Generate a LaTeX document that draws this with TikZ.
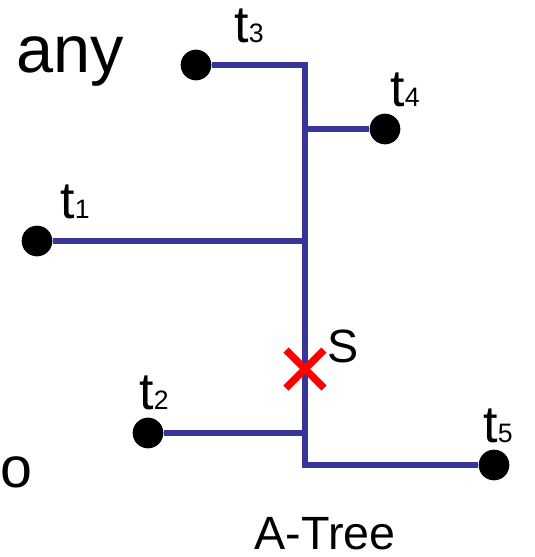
\documentclass[tikz,border=0pt]{standalone}
\usepackage{fontspec}
\setmainfont{Liberation Sans}
\usetikzlibrary{shapes.misc,positioning}
\definecolor{treeblue}{RGB}{54,54,154}
\newcommand{\term}[1]{{\fontsize{39}{44}\selectfont t}{\fontsize{20}{22}\selectfont #1}}

\begin{document}
\begin{tikzpicture}[
    x=0.75pt, y=-0.75pt,
    term/.style={circle, fill=black, minimum size=23pt, inner sep=0pt},
    wire/.style={treeblue, line width=5pt},
    lbl/.style={anchor=base, inner sep=0pt, font=\fontsize{35}{40}\selectfont},
    steiner/.style={cross out, draw=red, line width=5.5pt, minimum size=23pt, inner sep=0pt}
  ]
    \useasboundingbox (0,0) rectangle (535,557);
    % terminals
    \node[term] (t1) at (37,241) {};
    \node[term] (t2) at (148,433) {};
    \node[term] (t3) at (196,65) {};
    \node[term] (t4) at (385,129) {};
    \node[term] (t5) at (494,465) {};
    % trunk corners and junctions
    \coordinate (top) at (305,65);
    \coordinate (bot) at (305,465);
    \coordinate (j4) at (305,129);
    \coordinate (j1) at (305,241);
    \coordinate (j2) at (305,433);
    \draw[wire] (t3) -- (top) -- (bot) -- (t5);
    \draw[wire] (j4) -- (t4);
    \draw[wire] (t1) -- (j1);
    \draw[wire] (t2) -- (j2);
    \node[steiner] (s) at (305,369) {};
    % labels
    \node[lbl] (l3) at (249,42) {\term{3}};
    \node[lbl] (l4) at (405,106) {\term{4}};
    \node[lbl] (l1) at (75,218) {\term{1}};
    \node[lbl] (l2) at (154,409) {\term{2}};
    \node[lbl] (l5) at (498,442) {\term{5}};
    \node[lbl] (ls) at (343,362) {S};
    \node[lbl] (name) at (325,549) {A-Tree};
    \node[lbl, anchor=base west, font=\fontsize{50}{56}\selectfont] (any) at (16,72) {any};
    \node[lbl, anchor=base west, font=\fontsize{43}{48}\selectfont] (o) at (0,487) {o};
\end{tikzpicture}
\end{document}
